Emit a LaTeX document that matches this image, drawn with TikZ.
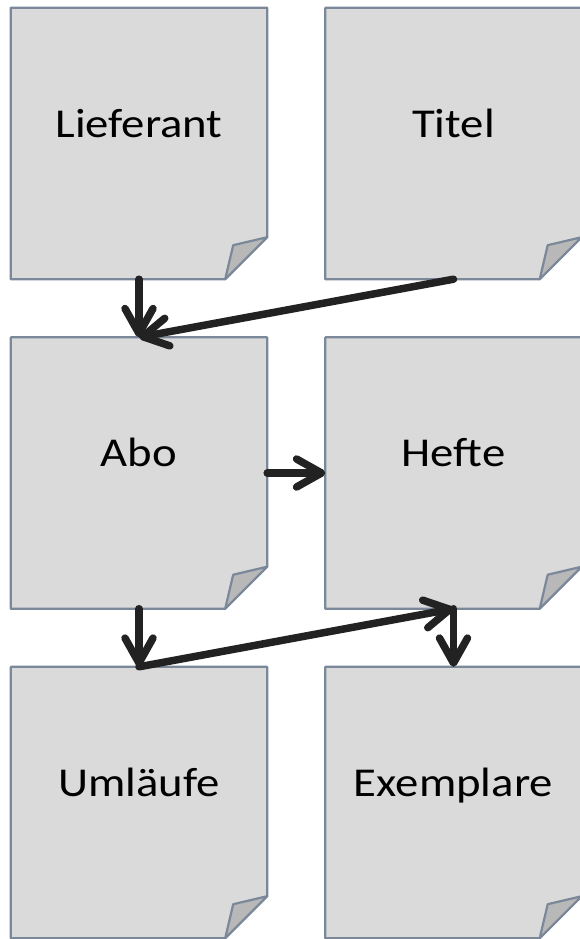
\documentclass[tikz,border=0pt]{standalone}
\usepackage{fontspec}
\setmainfont{Carlito}[FakeStretch=1.14]
\usetikzlibrary{arrows.meta,backgrounds}
\definecolor{boxfill}{HTML}{DADADA}
\definecolor{boxline}{HTML}{7A8899}
\definecolor{flapfill}{HTML}{B8B8B8}
\definecolor{arrowc}{HTML}{222222}
\begin{document}
\begin{tikzpicture}[x=1bp,y=-1bp,
  card/.style={rectangle, inner sep=0pt, minimum width=256bp, minimum height=271bp,
    font=\fontsize{41bp}{48bp}\selectfont, text height=20bp, text depth=33bp},
  link/.style={draw=arrowc, line width=7.5bp, line cap=round,
    -{Straight Barb[round,length=25bp,width=28bp]}},
  cardshape/.style={draw=boxline, line width=2.2bp, fill=boxfill, line join=round},
  flapshape/.style={draw=boxline, line width=2.2bp, fill=flapfill, line join=round}]
\useasboundingbox (0,0) rectangle (580,939);
\node[card] (lief)  at (139,143.5)   {Lieferant};
\node[card] (titel) at (453.5,143.5) {Titel};
\node[card] (abo)   at (139,473)     {Abo};
\node[card] (hefte) at (453.5,473)   {Hefte};
\node[card] (uml)   at (139,802.5)   {Umläufe};
\node[card] (exem)  at (453.5,802.5) {Exemplare};
\begin{scope}[on background layer]
\foreach \n in {lief,titel,abo,hefte,uml,exem}{
  \path[cardshape] (\n.north west) -- (\n.north east) -- ([yshift=42bp]\n.south east)
     -- ([xshift=-42bp]\n.south east) -- (\n.south west) -- cycle;
  \path[flapshape] ([yshift=42bp]\n.south east) -- ([xshift=-34bp,yshift=34bp]\n.south east)
     -- ([xshift=-42bp]\n.south east) -- cycle;
}
\end{scope}
\draw[link] (lief.south) -- (abo.north);
\draw[link] (titel.south) -- (abo.north);
\draw[link] (abo.east) -- (hefte.west);
\draw[link] (abo.south) -- (uml.north);
\draw[link] (uml.north) -- (hefte.south);
\draw[link] (hefte.south) -- (exem.north);
\end{tikzpicture}
\end{document}
